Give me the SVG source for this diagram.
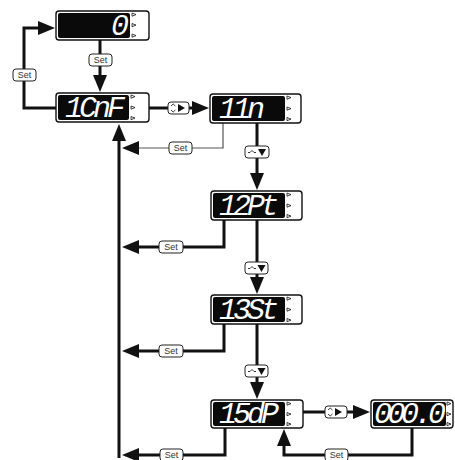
<svg xmlns="http://www.w3.org/2000/svg" width="455" height="460" viewBox="0 0 455 460">
<style>
.frame{fill:#fff;stroke:#111;stroke-width:1.4}
.screen{fill:#0a0a0a}
.led{fill:#fff;stroke:#111;stroke-width:0.8}
.seg{font-family:"Liberation Mono","DejaVu Sans Mono",monospace;font-style:italic;font-size:30px;fill:#fff;letter-spacing:-4px}
.wire{fill:none;stroke:#111;stroke-width:3;marker-end:url(#ah)}
.thin{fill:none;stroke:#555;stroke-width:1.2;marker-end:url(#ah)}
.lbl rect{fill:#fff;stroke:#222;stroke-width:1}
.lbl text{font-family:"Liberation Sans",Arial,sans-serif;font-size:9px;fill:#333;text-anchor:middle}
.btn rect{fill:#fff;stroke:#222;stroke-width:1}
.ico{fill:none;stroke:#222;stroke-width:0.9}
.tri{fill:#111}
</style>
<defs>
<marker id="ah" markerUnits="userSpaceOnUse" markerWidth="17" markerHeight="14" refX="9" refY="7" orient="auto">
<path d="M0,0 L17,7 L0,14 Z" fill="#111"/>
</marker>
</defs>

<g id="connectors">
<path class="wire" d="M100,40 V84"/>
<path class="wire" d="M56,108 H24 V28 H47"/>
<path class="wire" d="M149,108 H201"/>
<path class="thin" d="M223,123 V148 H130"/>
<path class="wire" d="M257,123 V182"/>
<path class="wire" d="M224,220 V247 H130"/>
<path class="wire" d="M257,220 V286"/>
<path class="wire" d="M224,324 V351 H130"/>
<path class="wire" d="M257,324 V391"/>
<path class="wire" d="M225,428 V455 H130"/>
<path class="wire" d="M303,412 H362"/>
<path class="wire" d="M412,428 V455 H284 V437"/>
<path class="wire" d="M119,458 V132"/>
</g>

<g id="labels">
<g class="lbl"><rect x="89" y="54" width="23" height="12" rx="3"/><text x="100.5" y="63">Set</text></g>
<g class="lbl"><rect x="13" y="69" width="23" height="12" rx="3"/><text x="24.5" y="78">Set</text></g>
<g class="lbl"><rect x="169" y="142" width="23" height="12" rx="3"/><text x="180.5" y="151">Set</text></g>
<g class="lbl"><rect x="159" y="241" width="24" height="12" rx="3"/><text x="171" y="250">Set</text></g>
<g class="lbl"><rect x="159" y="345" width="24" height="12" rx="3"/><text x="171" y="354">Set</text></g>
<g class="lbl"><rect x="160" y="449" width="23" height="12" rx="3"/><text x="171.5" y="458">Set</text></g>
<g class="lbl"><rect x="325" y="449" width="23" height="12" rx="3"/><text x="336.5" y="458">Set</text></g>
</g>

<g id="buttons">
<g class="btn"><rect x="168" y="102" width="21" height="12" rx="3"/><path class="ico" d="M171,106 l2.2,-2 l2.2,2 M171,110 l2.2,2 l2.2,-2"/><path class="tri" d="M178,104 l7,4 l-7,4 Z"/></g>
<g class="btn"><rect x="325" y="406" width="22" height="12" rx="3"/><path class="ico" d="M328,410 l2.2,-2 l2.2,2 M328,414 l2.2,2 l2.2,-2"/><path class="tri" d="M335,408 l7,4 l-7,4 Z"/></g>
<g class="btn"><rect x="245" y="146" width="24" height="12" rx="3"/><path class="ico" d="M248,152.5 h2 l2,-2 l2,2 h2"/><path class="tri" d="M258,149 h8 l-4,7 Z"/></g>
<g class="btn"><rect x="245" y="262" width="23" height="12" rx="3"/><path class="ico" d="M248,268.5 h2 l2,-2 l2,2 h2"/><path class="tri" d="M257.5,265 h8 l-4,7 Z"/></g>
<g class="btn"><rect x="245" y="365" width="23" height="12" rx="3"/><path class="ico" d="M248,371.5 h2 l2,-2 l2,2 h2"/><path class="tri" d="M257.5,368 h8 l-4,7 Z"/></g>
</g>

<g id="d-top">
<rect class="frame" x="56" y="11" width="93" height="29" rx="3"/>
<rect class="screen" x="58" y="13" width="72" height="25" rx="2"/>
<path class="led" d="M132,13 l4,1.6 l-4,1.6Z M132,23.5 l4,1.6 l-4,1.6Z M132,34 l4,1.6 l-4,1.6Z"/>
<text class="seg" x="111" y="35">0</text>
</g>

<g id="d-1CnF">
<rect class="frame" x="56" y="93" width="93" height="29" rx="3"/>
<rect class="screen" x="58" y="95" width="71" height="25" rx="2"/>
<path class="led" d="M131,95 l4,1.6 l-4,1.6Z M131,106 l4,1.6 l-4,1.6Z M131,116.5 l4,1.6 l-4,1.6Z"/>
<text class="seg" x="65" y="117">1CnF</text>
</g>

<g id="d-11n">
<rect class="frame" x="210" y="94" width="91" height="29" rx="3"/>
<rect class="screen" x="212" y="96" width="73" height="25" rx="2"/>
<path class="led" d="M287,96 l4,1.6 l-4,1.6Z M287,107 l4,1.6 l-4,1.6Z M287,117.5 l4,1.6 l-4,1.6Z"/>
<text class="seg" x="219" y="118">11n</text>
</g>

<g id="d-12Pt">
<rect class="frame" x="211" y="191" width="91" height="29" rx="3"/>
<rect class="screen" x="213" y="193" width="72" height="25" rx="2"/>
<path class="led" d="M287,193 l4,1.6 l-4,1.6Z M287,204 l4,1.6 l-4,1.6Z M287,214.5 l4,1.6 l-4,1.6Z"/>
<text class="seg" x="219" y="215">12Pt</text>
</g>

<g id="d-13St">
<rect class="frame" x="211" y="295" width="91" height="29" rx="3"/>
<rect class="screen" x="213" y="297" width="72" height="25" rx="2"/>
<path class="led" d="M287,297 l4,1.6 l-4,1.6Z M287,308 l4,1.6 l-4,1.6Z M287,318.5 l4,1.6 l-4,1.6Z"/>
<text class="seg" x="219" y="319">13St</text>
</g>

<g id="d-15dP">
<rect class="frame" x="211" y="400" width="92" height="28" rx="3"/>
<rect class="screen" x="213" y="402" width="72" height="24" rx="2"/>
<path class="led" d="M287,402 l4,1.6 l-4,1.6Z M287,412.5 l4,1.6 l-4,1.6Z M287,422.5 l4,1.6 l-4,1.6Z"/>
<text class="seg" x="219" y="423">15dP</text>
</g>

<g id="d-000">
<rect class="frame" x="371" y="400" width="82" height="28" rx="3"/>
<rect class="screen" x="373" y="402" width="73" height="24" rx="2"/>
<path class="led" d="M447,402 l4,1.6 l-4,1.6Z M447,412.5 l4,1.6 l-4,1.6Z M447,422.5 l4,1.6 l-4,1.6Z"/>
<text class="seg" x="374" y="423" style="letter-spacing:-4.5px">000.0</text>
</g>
</svg>
